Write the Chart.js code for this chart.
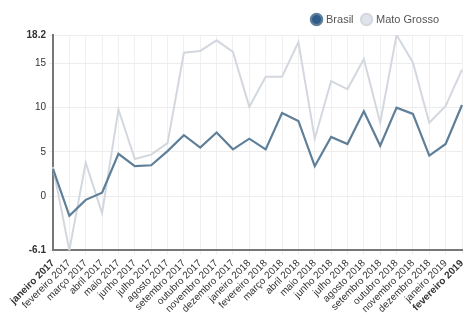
<!DOCTYPE html>
<html>
<head>
<meta charset="utf-8">
<script src="https://cdn.jsdelivr.net/npm/chart.js@4/dist/chart.umd.min.js"></script>
<style>
  html, body { margin: 0; padding: 0; background: #fff; }
  #wrap { width: 469px; height: 320px; }
</style>
</head>
<body>
<div id="wrap"><canvas id="grafico"></canvas></div>
<script>
const meses = [
    'janeiro 2017', 'fevereiro 2017', 'março 2017', 'abril 2017', 'maio 2017', 'junho 2017',
    'julho 2017', 'agosto 2017', 'setembro 2017', 'outubro 2017', 'novembro 2017', 'dezembro 2017',
    'janeiro 2018', 'fevereiro 2018', 'março 2018', 'abril 2018', 'maio 2018', 'junho 2018',
    'julho 2018', 'agosto 2018', 'setembro 2018', 'outubro 2018', 'novembro 2018', 'dezembro 2018',
    'janeiro 2019', 'fevereiro 2019'
];

const brasil = [
    3.1, -2.2, -0.4, 0.4, 4.8, 3.4, 3.5, 5.1, 6.9, 5.5, 7.2, 5.3,
    6.5, 5.3, 9.4, 8.5, 3.4, 6.7, 5.9, 9.6, 5.7, 10.0, 9.3, 4.6,
    5.9, 10.3
];

const matoGrosso = [
    3.3, -6.1, 3.8, -1.9, 9.8, 4.2, 4.7, 6.0, 16.2, 16.4, 17.6, 16.3,
    10.1, 13.5, 13.5, 17.4, 6.5, 13.0, 12.1, 15.5, 8.3, 18.2, 15.1, 8.3,
    10.2, 14.3
];

const yTicks = [-6.1, 0, 5, 10, 15, 18.2];

const fonte = 'Liberation Sans, Arial, sans-serif';

// empurra a legenda um pouco para a esquerda
const legendaRecuada = {
    id: 'legendaRecuada',
    afterLayout: chart => {
        if (chart.legend) chart.legend.right -= 14;
    }
};

new Chart(document.getElementById('grafico').getContext('2d'), {
    type: 'line',
    data: {
        labels: meses,
        datasets: [
            {
                label: 'Brasil',
                data: brasil,
                borderColor: '#5f7f99',
                backgroundColor: '#2f5d8a',
                borderWidth: 2.2,
                pointRadius: 0,
                tension: 0
            },
            {
                label: 'Mato Grosso',
                data: matoGrosso,
                borderColor: '#d3d8df',
                backgroundColor: '#dfe3ea',
                borderWidth: 2,
                pointRadius: 0,
                tension: 0
            }
        ]
    },
    plugins: [legendaRecuada],
    options: {
        responsive: true,
        maintainAspectRatio: false,
        animation: false,
        layout: { padding: { top: 5, right: 7, left: 9, bottom: 2 } },
        plugins: {
            legend: {
                position: 'top',
                align: 'end',
                labels: {
                    usePointStyle: true,
                    pointStyle: 'circle',
                    boxWidth: 8,
                    boxHeight: 8,
                    padding: 9,
                    color: '#555',
                    font: { family: fonte, size: 11 }
                }
            },
            tooltip: { enabled: false }
        },
        scales: {
            x: {
                grid: { color: '#f0f0f0', drawTicks: true, tickLength: 4 },
                border: { color: '#777', width: 2 },
                afterFit: axis => {
                    axis.paddingRight = 0;
                },
                ticks: {
                    autoSkip: false,
                    maxRotation: 45,
                    minRotation: 45,
                    color: '#333',
                    font: ctx => ({
                        family: fonte,
                        size: 10,
                        weight: (ctx.index === 0 || ctx.index === meses.length - 1) ? 'bold' : 'normal'
                    })
                }
            },
            y: {
                min: -6.1,
                max: 18.2,
                afterBuildTicks: axis => {
                    axis.ticks = yTicks.map(v => ({ value: v }));
                },
                // deixa espaço para o rótulo inclinado de janeiro 2017
                afterFit: axis => {
                    axis.width = 44;
                },
                grid: { color: '#ececec', tickLength: 4 },
                border: { color: '#777', width: 2 },
                ticks: {
                    color: '#333',
                    font: ctx => ({
                        family: fonte,
                        size: 10,
                        weight: (ctx.tick && (ctx.tick.value === -6.1 || ctx.tick.value === 18.2)) ? 'bold' : 'normal'
                    })
                }
            }
        }
    }
});
</script>
</body>
</html>
